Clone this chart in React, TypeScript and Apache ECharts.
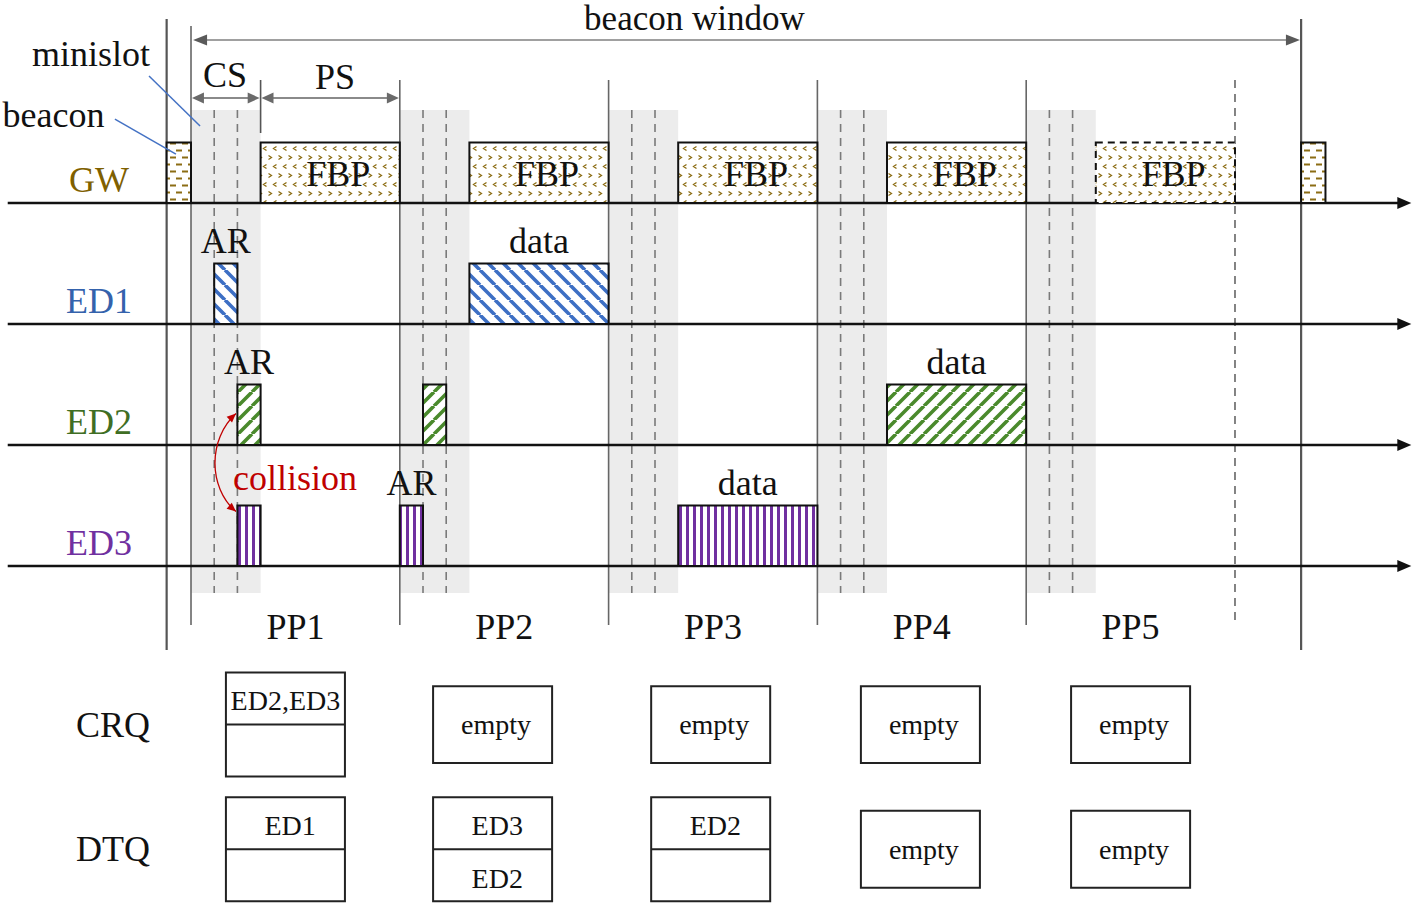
import React, { useEffect, useRef } from "react";
import * as echarts from "echarts";

// ---------------- data (time in minislot units, rows in lane units) ----------------
const laneNames = ["GW", "ED1", "ED2", "ED3"];
const laneBaselines = [1, 2, 3, 4];
const periodLabels = ["PP1", "PP2", "PP3", "PP4", "PP5"];
const periodStarts = [0, 9, 18, 27, 36];
const contentionSlots = 3;
const windowEnd = 45;
const beaconStarts = [-1.05, 47.85];
const beaconWidth = 1.05;
const fbpStarts = [3, 12, 21, 30, 39];
const fbpWidth = 6;
const fbpPredicted = [false, false, false, false, true];
const arLanes = [1, 2, 2, 3, 3];
const arStarts = [1, 2, 10, 2, 9];
const arWidth = 1;
const arLabels = ["AR", "AR", "", "", "AR"];
const dataLanes = [1, 2, 3];
const dataStarts = [12, 30, 21];
const dataWidth = 6;
const collisionLanes = [2, 3];
const collisionSlot = 2;
const queueNames = ["CRQ", "DTQ"];
const queueCenters = [4.07, 13.0, 22.4, 31.44, 40.5];
const crqContents = [["ED2,ED3", ""], ["empty"], ["empty"], ["empty"], ["empty"]];
const dtqContents = [["ED1", ""], ["ED3", "ED2"], ["ED2", ""], ["empty"], ["empty"]];

// ---------------- layout & style ----------------
const FONT = "'Liberation Serif', 'Times New Roman', 'DejaVu Serif', serif";
const laneColors = ["#7f6000", "#3462ac", "#3f6e24", "#7030a0"];
const X_MIN = -8.233, X_MAX = 52.716, Y_MIN = -0.678, Y_MAX = 6.801;
const AXIS_FROM = -7.9, AXIS_TO = 52.6;
const SHADE_TOP = 0.231, SHADE_BOTTOM = 4.223;
const PP_LINE_TOP = -0.017, PP_LINE_BOTTOM = 4.488;
const FIRST_LINE_TOP = -0.463;
const BEACON_LINE_TOP = -0.52, BEACON_LINE_BOTTOM = 4.694;
const TICK_BOTTOM = 0.421;
const WINDOW_ARROW_V = -0.347;
const SLOT_ARROW_V = 0.132;
const BLOCK_H = 0.5;
const LABEL_GAP = 0.19;
const QUEUE_W = 5.13, QUEUE_H2 = 0.86, QUEUE_H1 = 0.635;
const queueRowCenters = [5.31, 6.34];

function buildPatterns() {
  const tile = (w: number, h: number, draw: (ctx: CanvasRenderingContext2D) => void) => {
    const cv = document.createElement("canvas");
    cv.width = w;
    cv.height = h;
    const ctx = cv.getContext("2d") as CanvasRenderingContext2D;
    ctx.fillStyle = "#ffffff";
    ctx.fillRect(0, 0, w, h);
    draw(ctx);
    return { image: cv.toDataURL("image/png"), repeat: "repeat", imageWidth: w, imageHeight: h };
  };
  const brown = "#8c6d14";
  const beacon = tile(12, 14, (ctx) => {
    ctx.strokeStyle = brown;
    ctx.lineWidth = 2;
    ctx.beginPath();
    ctx.moveTo(2, 3.5); ctx.lineTo(8, 3.5);
    ctx.moveTo(8, 10.5); ctx.lineTo(12, 10.5);
    ctx.moveTo(0, 10.5); ctx.lineTo(2, 10.5);
    ctx.stroke();
  });
  const fbp = tile(20, 18, (ctx) => {
    ctx.strokeStyle = brown;
    ctx.lineWidth = 1.3;
    const chev = (x: number, y: number, dir: number) => {
      ctx.moveTo(x + 1.5 * dir, y - 2);
      ctx.lineTo(x - 1.5 * dir, y);
      ctx.lineTo(x + 1.5 * dir, y + 2);
    };
    ctx.beginPath();
    chev(5, 4.5, 1); chev(15, 4.5, 1);
    chev(10, 13.5, -1); chev(20, 13.5, -1); chev(0, 13.5, -1);
    ctx.stroke();
  });
  const diag = (color: string, s: number, lw: number, back: boolean) =>
    tile(s, s, (ctx) => {
      ctx.strokeStyle = color;
      ctx.lineWidth = lw;
      ctx.beginPath();
      for (const k of [-s, 0, s]) {
        if (back) { ctx.moveTo(k, 0); ctx.lineTo(k + s, s); }
        else { ctx.moveTo(k, s); ctx.lineTo(k + s, 0); }
      }
      ctx.stroke();
    });
  const ed1 = diag("#3d6fc4", 15, 3.6, true);
  const ed2 = diag("#4a8a2c", 14, 3.6, false);
  const ed3 = tile(7, 7, (ctx) => {
    ctx.fillStyle = "#7030a0";
    ctx.fillRect(0, 0, 3, 7);
  });
  return { beacon, fbp, ed1, ed2, ed3 } as any;
}

function arrowHead(tip: number[], dir: number[], len: number, half: number, color: string) {
  const n = Math.hypot(dir[0], dir[1]);
  const ux = dir[0] / n, uy = dir[1] / n;
  const bx = tip[0] - ux * len, by = tip[1] - uy * len;
  return {
    type: "polygon",
    shape: { points: [[tip[0], tip[1]], [bx - uy * half, by + ux * half], [bx + uy * half, by - ux * half]] },
    style: { fill: color },
  };
}

function txt(p: number[], text: string, size: number, color = "#111", align = "center") {
  return {
    type: "text",
    x: p[0],
    y: p[1],
    style: { text, fill: color, fontSize: size, fontFamily: FONT, align, verticalAlign: "middle" },
  };
}

function buildOption(patterns: any) {
  const blocks: any[] = [
    ...beaconStarts.map((s) => ({ lane: 0, start: s, width: beaconWidth, kind: "beacon", label: "", inner: "", dashed: false })),
    ...fbpStarts.map((s, i) => ({ lane: 0, start: s, width: fbpWidth, kind: "fbp", label: "", inner: "FBP", dashed: fbpPredicted[i] })),
    ...arStarts.map((s, i) => ({ lane: arLanes[i], start: s, width: arWidth, kind: "ed" + arLanes[i], label: arLabels[i], inner: "", dashed: false })),
    ...dataStarts.map((s, i) => ({ lane: dataLanes[i], start: s, width: dataWidth, kind: "ed" + dataLanes[i], label: "data", inner: "", dashed: false })),
  ];

  const vLines: any[] = [
    ...periodStarts.map((s, i) => ({ t: s, top: i === 0 ? FIRST_LINE_TOP : PP_LINE_TOP, bottom: PP_LINE_BOTTOM, color: "#666", w: 1.6, dash: null })),
    { t: windowEnd, top: PP_LINE_TOP, bottom: PP_LINE_BOTTOM, color: "#777", w: 1.8, dash: [8, 6] },
    ...beaconStarts.map((s) => ({ t: s, top: BEACON_LINE_TOP, bottom: BEACON_LINE_BOTTOM, color: "#555", w: 2.2, dash: null })),
    { t: periodStarts[0] + contentionSlots, top: PP_LINE_TOP, bottom: TICK_BOTTOM, color: "#555", w: 1.6, dash: null },
  ];

  const queues: any[] = [];
  queueCenters.forEach((c, i) => {
    queues.push({ c, row: 0, cells: crqContents[i] });
    queues.push({ c, row: 1, cells: dtqContents[i] });
  });

  const base = { type: "custom", coordinateSystem: "cartesian2d", silent: true, clip: false };

  return {
    animation: false,
    backgroundColor: "#ffffff",
    grid: { left: 0, right: 0, top: 0, bottom: 0 },
    xAxis: { type: "value", min: X_MIN, max: X_MAX, show: false },
    yAxis: { type: "value", min: Y_MIN, max: Y_MAX, inverse: true, show: false },
    series: [
      // contention-slot shading + minislot dashes
      {
        ...base,
        data: periodStarts.map((s) => [s, s + contentionSlots]),
        renderItem: (_p: any, api: any) => {
          const s = api.value(0), e = api.value(1);
          const a = api.coord([s, SHADE_TOP]);
          const b = api.coord([e, SHADE_BOTTOM]);
          const children: any[] = [
            { type: "rect", shape: { x: a[0], y: a[1], width: b[0] - a[0], height: b[1] - a[1] }, style: { fill: "#ececec" } },
          ];
          for (let k = 1; k < contentionSlots; k++) {
            const x = api.coord([s + k, 0])[0];
            children.push({ type: "line", shape: { x1: x, y1: a[1], x2: x, y2: b[1] }, style: { stroke: "#7a7a7a", lineWidth: 1.6, lineDash: [8, 6] } });
          }
          return { type: "group", children };
        },
      },
      // vertical structure lines
      {
        ...base,
        data: vLines.map((l) => [l.t, l.top, l.bottom]),
        renderItem: (p: any, api: any) => {
          const l = vLines[p.dataIndex];
          const a = api.coord([api.value(0), api.value(1)]);
          const b = api.coord([api.value(0), api.value(2)]);
          return { type: "line", shape: { x1: a[0], y1: a[1], x2: b[0], y2: b[1] }, style: { stroke: l.color, lineWidth: l.w, lineDash: l.dash } };
        },
      },
      // lane time axes
      {
        ...base,
        data: laneBaselines.map((b) => [AXIS_FROM, AXIS_TO, b]),
        renderItem: (_p: any, api: any) => {
          const a = api.coord([api.value(0), api.value(2)]);
          const b = api.coord([api.value(1), api.value(2)]);
          return {
            type: "group",
            children: [
              { type: "line", shape: { x1: a[0], y1: a[1], x2: b[0] - 8, y2: b[1] }, style: { stroke: "#111", lineWidth: 2.4 } },
              arrowHead(b, [1, 0], 14, 6, "#111"),
            ],
          };
        },
      },
      // blocks
      {
        ...base,
        data: blocks.map((b) => [b.start, b.start + b.width, laneBaselines[b.lane]]),
        renderItem: (p: any, api: any) => {
          const b = blocks[p.dataIndex];
          const a = api.coord([api.value(0), api.value(2) - BLOCK_H]);
          const c = api.coord([api.value(1), api.value(2)]);
          const children: any[] = [
            {
              type: "rect",
              shape: { x: a[0], y: a[1], width: c[0] - a[0], height: c[1] - a[1] },
              style: { fill: patterns[b.kind], stroke: "#111", lineWidth: 2, lineDash: b.dashed ? [7, 5] : null },
            },
          ];
          if (b.label) {
            children.push(txt(api.coord([(api.value(0) + api.value(1)) / 2, api.value(2) - BLOCK_H - LABEL_GAP]), b.label, 36));
          }
          if (b.inner) {
            children.push(txt(api.coord([(api.value(0) + api.value(1)) / 2 + 0.35, api.value(2) - BLOCK_H / 2 + 0.01]), b.inner, 36));
          }
          return { type: "group", children };
        },
      },
      // lane names
      {
        ...base,
        data: laneBaselines.map((b) => [-3.97, b - LABEL_GAP]),
        renderItem: (p: any, api: any) =>
          txt(api.coord([api.value(0), api.value(1)]), laneNames[p.dataIndex], 36, laneColors[p.dataIndex]),
      },
      // period labels
      {
        ...base,
        data: periodStarts.map((s) => [s + 4.5, 4.5]),
        renderItem: (p: any, api: any) => txt(api.coord([api.value(0), api.value(1)]), periodLabels[p.dataIndex], 36),
      },
      // queue row labels
      {
        ...base,
        data: queueRowCenters.map((v) => [-3.36, v]),
        renderItem: (p: any, api: any) => txt(api.coord([api.value(0), api.value(1)]), queueNames[p.dataIndex], 36),
      },
      // queue boxes
      {
        ...base,
        data: queues.map((q) => [q.c, queueRowCenters[q.row]]),
        renderItem: (p: any, api: any) => {
          const q = queues[p.dataIndex];
          const cx = api.value(0), cy = api.value(1);
          const h = q.cells.length === 2 ? QUEUE_H2 : QUEUE_H1;
          const a = api.coord([cx - QUEUE_W / 2, cy - h / 2]);
          const b = api.coord([cx + QUEUE_W / 2, cy + h / 2]);
          const children: any[] = [
            { type: "rect", shape: { x: a[0], y: a[1], width: b[0] - a[0], height: b[1] - a[1] }, style: { fill: "#fff", stroke: "#222", lineWidth: 2 } },
          ];
          if (q.cells.length === 2) {
            const m = api.coord([cx, cy]);
            children.push({ type: "line", shape: { x1: a[0], y1: m[1], x2: b[0], y2: m[1] }, style: { stroke: "#222", lineWidth: 2 } });
            q.cells.forEach((t: string, k: number) => {
              if (!t) return;
              const off = t.length > 5 ? 0 : 0.2;
              const cyy = k === 0 ? cy - h / 4 + 0.02 : cy + h / 4 + 0.03;
              children.push(txt(api.coord([cx + off, cyy]), t, 28));
            });
          } else {
            children.push(txt(api.coord([cx + 0.15, cy]), q.cells[0], 28));
          }
          return { type: "group", children };
        },
      },
      // annotations
      {
        ...base,
        data: [[0, 0]],
        renderItem: (_p: any, api: any) => {
          const C = (t: number, v: number) => api.coord([t, v]);
          const children: any[] = [];
          // beacon window arrow
          const wl = C(periodStarts[0] + 0.09, WINDOW_ARROW_V);
          const wr = C(beaconStarts[1] - 0.05, WINDOW_ARROW_V);
          children.push({ type: "line", shape: { x1: wl[0] + 10, y1: wl[1], x2: wr[0] - 10, y2: wr[1] }, style: { stroke: "#a0a0a0", lineWidth: 2 } });
          children.push(arrowHead(wl, [-1, 0], 14, 5.5, "#5a5a5a"));
          children.push(arrowHead(wr, [1, 0], 14, 5.5, "#5a5a5a"));
          children.push(txt(C(21.7, -0.522), "beacon window", 35));
          // CS / PS arrows
          const segs = [
            [periodStarts[0], periodStarts[0] + contentionSlots, "CS", 1.47, -0.058],
            [periodStarts[0] + contentionSlots, periodStarts[1], "PS", 6.21, -0.041],
          ];
          segs.forEach((s: any) => {
            const l = C(s[0] + 0.04, SLOT_ARROW_V);
            const r = C(s[1] - 0.04, SLOT_ARROW_V);
            children.push({ type: "line", shape: { x1: l[0] + 8, y1: l[1], x2: r[0] - 8, y2: r[1] }, style: { stroke: "#8a8a8a", lineWidth: 2 } });
            children.push(arrowHead(l, [-1, 0], 12, 5.5, "#6a6a6a"));
            children.push(arrowHead(r, [1, 0], 12, 5.5, "#6a6a6a"));
            children.push(txt(C(s[3], s[4]), s[2], 36));
          });
          // minislot / beacon callouts
          children.push(txt(C(-4.31, -0.231), "minislot", 36));
          const m1 = C(-1.81, -0.05), m2 = C(0.39, 0.364);
          children.push({ type: "line", shape: { x1: m1[0], y1: m1[1], x2: m2[0], y2: m2[1] }, style: { stroke: "#4472c4", lineWidth: 1.5 } });
          children.push(txt(C(-5.93, 0.273), "beacon", 36));
          const b1 = C(-3.28, 0.306), b2 = C(-0.65, 0.595);
          children.push({ type: "line", shape: { x1: b1[0], y1: b1[1], x2: b2[0], y2: b2[1] }, style: { stroke: "#4472c4", lineWidth: 1.5 } });
          // collision
          const top = C(collisionSlot - 0.06, laneBaselines[collisionLanes[0]] - BLOCK_H / 2 - 0.01);
          const bot = C(collisionSlot - 0.06, laneBaselines[collisionLanes[1]] - BLOCK_H + 0.05);
          const cp1 = C(collisionSlot - 1.27, laneBaselines[collisionLanes[0]] - 0.05);
          const cp2 = C(collisionSlot - 1.27, laneBaselines[collisionLanes[1]] - 0.65);
          children.push({
            type: "bezierCurve",
            shape: { x1: top[0], y1: top[1], cpx1: cp1[0], cpy1: cp1[1], cpx2: cp2[0], cpy2: cp2[1], x2: bot[0], y2: bot[1] },
            style: { stroke: "#c00000", lineWidth: 1.3, fill: null },
          });
          children.push(arrowHead(top, [top[0] - cp1[0], top[1] - cp1[1]], 9, 4, "#c00000"));
          children.push(arrowHead(bot, [bot[0] - cp2[0], bot[1] - cp2[1]], 9, 4, "#c00000"));
          children.push(txt(C(collisionSlot - 0.19, 3.27), "collision", 36, "#c00000", "left"));
          return { type: "group", children };
        },
      },
    ],
  };
}

export default function App() {
  const ref = useRef<HTMLDivElement>(null);
  useEffect(() => {
    if (!ref.current) return;
    const chart = echarts.init(ref.current, null, { renderer: "svg" });
    chart.setOption(buildOption(buildPatterns()) as any);
    return () => chart.dispose();
  }, []);
  return (
    <div
      ref={ref}
      style={{ position: "fixed", left: 0, top: 0, width: 1414, height: 905, background: "#ffffff" }}
    />
  );
}
